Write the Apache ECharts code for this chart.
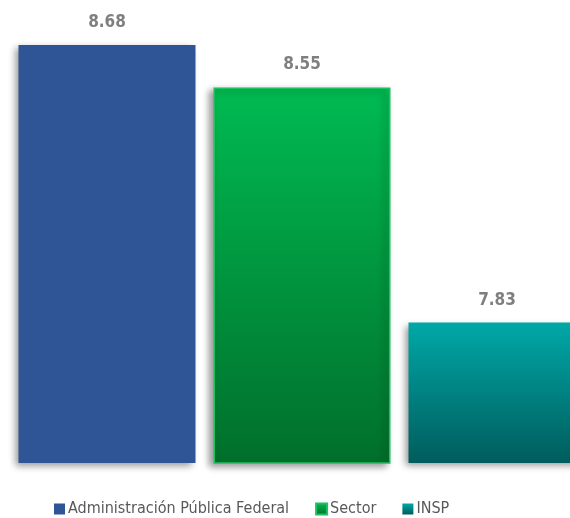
<!DOCTYPE html>
<html>
<head>
<meta charset="utf-8">
<script src="https://cdn.jsdelivr.net/npm/echarts@6/dist/echarts.min.js"></script>
<style>
  html, body { margin: 0; padding: 0; background: #fff; }
  #main { width: 570px; height: 518px; }
</style>
</head>
<body>
<div id="main"></div>
<script>
  var categories = ['Administración Pública Federal', 'Sector', 'INSP'];
  var values = [8.68, 8.55, 7.83];

  var FONT = "'DejaVu Sans Condensed', 'Liberation Sans Narrow', 'Liberation Sans', sans-serif";

  function grad(top, bottom) {
    return new echarts.graphic.LinearGradient(0, 0, 0, 1, [
      { offset: 0, color: top },
      { offset: 1, color: bottom }
    ]);
  }

  var fills = [
    '#2f5597',
    grad('#00bb52', '#006f2b'),
    grad('#00a8a8', '#005c5c')
  ];
  var legendFills = ['#2f5597', '#00a84a', '#00898a'];

  var series = categories.map(function (name, i) {
    var data = categories.map(function (c, j) { return j === i ? values[i] : '-'; });
    return {
      name: name,
      type: 'bar',
      data: data,
      barWidth: 177,
      barGap: '-100%',
      itemStyle: {
        color: fills[i],
        borderColor: i === 1 ? '#1fc060' : 'transparent',
        borderWidth: i === 1 ? 1.5 : 0,
        shadowColor: 'rgba(0,0,0,0.4)',
        shadowBlur: 7,
        shadowOffsetX: -4,
        shadowOffsetY: 3
      },
      label: {
        show: true,
        position: 'top',
        distance: 14,
        color: '#7f7f7f',
        fontFamily: FONT,
        fontWeight: 'bold',
        fontSize: 17,
        formatter: function (p) { return p.value.toFixed(2); }
      }
    };
  });

  var chart = echarts.init(document.getElementById('main'));
  chart.setOption({
    animation: false,
    color: legendFills,
    grid: { left: 107, right: 73, top: 45, bottom: 55 },
    xAxis: {
      type: 'category',
      data: categories,
      boundaryGap: false,
      show: false
    },
    yAxis: {
      type: 'value',
      min: 7.4,
      max: 8.68,
      show: false
    },
    legend: {
      top: 496,
      left: 49,
      itemWidth: 11,
      itemHeight: 11,
      itemGap: 26,
      icon: 'rect',
      textStyle: {
        color: '#595959',
        fontFamily: FONT,
        fontSize: 16,
        padding: [0, 0, 0, -2]
      },
      data: categories
    },
    series: series
  });
</script>
</body>
</html>
